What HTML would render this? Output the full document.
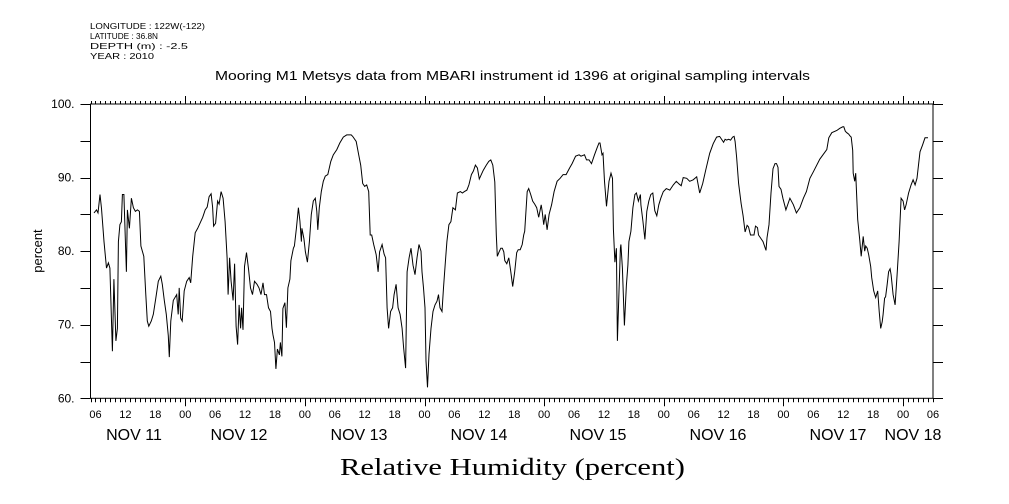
<!DOCTYPE html>
<html><head><meta charset="utf-8"><style>
body{margin:0;background:#fff;}
svg{display:block;font-family:"Liberation Sans",sans-serif;}
</style></head><body>
<svg id="chart" width="1009" height="504" viewBox="0 0 1009 504" xmlns="http://www.w3.org/2000/svg">
<g font-size="8.5" fill="#000">
<text x="90" y="29" textLength="115" lengthAdjust="spacingAndGlyphs">LONGITUDE : 122W(-122)</text>
<text x="90" y="39" textLength="68" lengthAdjust="spacingAndGlyphs">LATITUDE : 36.8N</text>
<text x="90" y="49" textLength="98" lengthAdjust="spacingAndGlyphs">DEPTH (m) : -2.5</text>
<text x="90" y="59" textLength="64" lengthAdjust="spacingAndGlyphs">YEAR : 2010</text>
</g>
<text x="215" y="80" textLength="595" lengthAdjust="spacingAndGlyphs" font-size="13">Mooring M1 Metsys data from MBARI instrument id 1396 at original sampling intervals</text>
<text transform="translate(42,251) rotate(-90)" text-anchor="middle" font-size="13">percent</text>
<text x="340" y="475" textLength="345" lengthAdjust="spacingAndGlyphs" font-family="Liberation Serif, serif" font-size="24">Relative Humidity (percent)</text>
<g id="axes"></g>
<g id="series"></g>
</svg>
<script>
const times=[5.7,6.2,6.5,6.9,7.2,7.7,8.2,8.6,8.9,9.4,9.7,10.1,10.4,10.6,10.9,11.2,11.4,11.7,12.0,12.2,12.4,12.8,13.2,13.6,14.0,14.4,14.8,15.1,15.7,16.1,16.4,16.7,17.2,17.6,18.1,18.6,19.1,19.4,19.8,20.2,20.6,20.8,21.1,21.6,22.3,22.6,22.8,23.1,23.4,23.8,24.3,24.8,25.1,25.5,26.0,26.5,27.1,27.5,28.0,28.4,28.8,29.2,29.5,29.7,30.1,30.5,30.8,31.2,31.6,32.0,32.4,32.6,32.9,33.2,33.6,33.9,34.2,34.5,34.8,35.1,35.3,35.6,35.9,36.3,36.7,37.1,37.5,37.9,38.4,38.8,39.2,39.6,39.9,40.3,40.7,41.1,41.4,41.6,41.9,42.2,42.5,42.9,43.1,43.4,43.6,44.0,44.3,44.6,45.0,45.2,45.7,45.9,46.3,46.7,47.0,47.3,47.4,47.8,48.1,48.5,48.9,49.3,49.7,50.1,50.4,50.6,50.9,51.3,51.7,52.1,52.6,53.2,53.7,54.4,55.0,55.7,56.4,57.3,57.6,58.3,58.8,59.2,59.6,60.0,60.4,60.8,61.1,61.4,61.8,62.3,62.7,63.0,63.5,63.9,64.2,64.5,64.8,65.2,65.6,65.9,66.3,66.7,67.1,67.5,67.8,68.2,68.5,68.9,69.3,69.7,70.1,70.5,70.9,71.3,71.5,71.8,72.1,72.3,72.6,72.9,73.3,73.7,74.1,74.5,74.8,75.1,75.5,75.8,76.2,76.5,76.9,77.3,77.7,78.2,78.6,79.2,79.6,80.0,80.5,80.9,81.4,81.8,82.2,82.6,83.0,83.4,83.8,84.4,84.9,85.3,85.7,86.1,86.4,86.6,86.9,87.3,87.6,87.9,88.1,88.5,88.9,89.3,89.7,90.1,90.5,90.8,91.2,91.6,91.9,92.1,92.6,92.9,93.3,93.7,94.1,94.5,94.9,95.4,95.6,95.9,96.2,96.6,97.0,97.5,98.0,98.6,99.2,99.8,100.4,101.1,101.6,102.3,103.0,103.4,104.1,104.5,105.0,105.5,106.1,106.6,107.0,107.2,107.6,107.8,108.1,108.5,109.0,109.4,109.7,109.9,110.2,110.5,110.7,111.0,111.3,111.4,111.7,112.1,112.5,112.8,113.0,113.4,113.8,114.2,114.5,114.9,115.3,115.4,115.8,116.2,116.6,117.0,117.4,117.8,118.2,118.6,119.0,119.4,119.9,120.5,121.2,121.9,122.5,123.1,123.5,123.9,124.6,125.2,125.9,126.6,127.2,127.8,128.4,129.2,129.9,130.6,131.2,132.0,132.3,132.6,133.0,133.4,133.8,134.1,134.3,134.6,135.0,135.5,135.9,136.3,136.7,137.0,137.4,137.8,138.1,138.4,138.8,139.0,139.4,139.9,140.5,140.7,141.1,141.5,141.9,142.3,142.6,142.9,143.1,143.5,143.9,144.5,145.3,146.0,146.6,147.3,148.0,148.6,149.3,150.0,151.3,152.7,153.1,153.7,154.7,155.3,155.9,156.1,156.4,156.7,157.1,157.3,157.6,157.9,158.0,158.3,158.5,158.9,159.3,159.6,160.0,160.3,160.5,160.8,161.1,161.5,161.7,162.1,162.5,162.9,163.2,163.5,163.8,164.0,164.3,164.5,164.8,165.1,165.4,165.6,166.0,166.4,166.8,167.2,167.6,168.0,168.3,168.6,169.1,169.6,170.0,170.4,170.8,171.4,171.9,172.4,173.0];
const values=[85.2,85.6,85.2,87.7,85.8,81.3,77.7,78.4,77.7,66.4,76.2,67.8,69.5,81.3,83.6,84.0,87.7,87.7,81.3,77.2,85.6,83.1,87.2,85.9,85.4,85.6,85.4,80.7,79.3,74.1,70.5,69.8,70.5,71.4,73.6,75.9,76.6,75.5,73.3,71.4,68.5,65.6,70.5,73.3,74.1,71.4,75.0,70.9,70.5,74.6,75.9,76.4,75.7,79.3,82.5,83.1,84.0,84.6,85.6,86.0,87.4,87.8,86.0,83.4,83.8,86.8,86.4,88.1,87.2,84.0,79.1,74.1,79.1,75.9,73.3,78.3,69.8,67.3,72.7,69.5,72.3,69.3,77.9,79.8,77.6,75.0,74.1,75.9,75.5,75.0,74.1,75.7,74.1,74.1,72.3,71.8,69.5,68.6,67.6,64.0,66.7,65.9,67.6,65.7,72.2,73.0,69.6,75.0,76.2,78.7,80.4,80.7,83.1,85.9,84.1,81.3,83.1,81.7,79.9,78.5,81.3,85.0,86.8,87.2,85.4,82.9,85.9,88.1,89.5,90.2,90.4,92.2,93.1,93.8,94.7,95.5,95.8,95.8,95.6,94.9,93.1,91.7,89.2,88.8,89.0,88.1,82.2,82.2,80.9,79.5,77.2,79.9,80.9,79.6,79.1,72.3,69.5,71.8,72.3,74.1,75.5,72.3,71.4,69.5,66.9,64.1,77.2,79.1,80.4,78.1,76.8,79.1,80.9,80.0,77.2,75.0,72.3,65.1,61.5,66.0,69.5,71.8,72.7,73.2,74.1,72.3,71.8,75.0,78.6,81.3,83.6,84.0,85.9,85.6,87.9,88.1,87.9,88.1,88.3,89.0,90.4,90.9,91.7,91.3,89.8,90.4,91.0,91.7,92.2,92.4,91.7,89.4,82.2,79.3,79.8,80.4,80.4,79.9,78.7,78.3,79.1,77.2,75.2,77.2,79.8,80.2,80.2,80.9,82.2,82.7,88.1,88.5,87.7,86.8,86.4,85.9,84.6,86.3,85.4,83.6,85.0,82.9,85.0,86.3,88.1,89.5,89.9,90.4,90.4,91.3,91.9,92.9,93.1,92.9,93.1,92.4,92.4,91.9,93.1,94.0,94.7,94.7,93.1,93.3,89.5,86.1,89.5,90.6,89.9,83.0,78.5,80.4,67.8,74.1,80.4,80.9,77.7,69.9,75.4,78.1,81.3,82.7,85.9,87.7,87.9,86.8,87.7,86.3,84.1,81.6,85.4,86.8,87.7,87.9,85.5,84.8,86.3,87.2,88.1,88.5,88.3,89.0,89.5,89.1,88.9,90.0,89.9,89.5,89.7,90.1,87.9,89.2,91.0,93.3,94.6,95.5,95.6,94.8,95.2,95.1,95.2,95.1,95.5,95.6,94.9,92.8,89.2,86.5,84.8,82.6,83.5,83.3,82.2,82.2,82.2,83.4,83.2,82.2,81.8,81.3,80.1,81.8,83.6,87.9,91.2,91.9,91.9,91.4,88.8,88.4,87.2,85.6,87.2,86.3,85.2,85.9,87.2,88.1,89.9,90.8,92.5,93.8,95.4,96.1,96.4,96.7,96.9,96.9,96.3,96.1,95.9,95.7,95.5,93.7,90.6,89.5,90.6,84.3,81.6,79.3,82.0,80.0,80.7,80.4,79.5,77.9,76.4,74.6,73.7,74.6,71.8,69.5,70.4,71.4,73.6,73.8,75.4,77.2,77.6,76.8,74.1,72.7,76.8,81.3,87.2,86.8,85.6,86.3,87.9,89.0,89.7,89.0,89.9,93.5,94.4,95.4,95.4,95.7,96.4,96.9,97.3,97.3,97.0];
const yTicks=[60,70,80,90,100];
const xHourLabels=['06','12','18','00','06','12','18','00','06','12','18','00','06','12','18','00','06','12','18','00','06','12','18','00','06','12','18','00','06'];
const dateLabels=['NOV 11','NOV 12','NOV 13','NOV 14','NOV 15','NOV 16','NOV 17','NOV 18'];
const dateCenters=[134,239,359,479,598,718,838,913];

const L=90.5,R=933,T=104,B=398.3,T0=5,T1=174;
const xs=t=>L+(t-T0)*(R-L)/(T1-T0);
const ys=v=>B-(v-60)*(B-T)/40;
const NS='http://www.w3.org/2000/svg';
function mk(tag,a,parent){const e=document.createElementNS(NS,tag);for(const k in a)e.setAttribute(k,a[k]);parent.appendChild(e);return e;}
const ax=document.getElementById('axes');
const frame=mk('rect',{x:L,y:T,width:R-L,height:B-T,fill:'none',stroke:'#000','stroke-width':1},ax);


let d='';
for(let h=5;h<=174;h++){const x=Math.round(xs(h))+0.5;const maj=h%24===0;
 d+=`M${x},${B}V${B+(maj?8:4)}M${x},${T}V${T-(maj?8:3)}`;}
for(let v=60;v<=100;v+=5){const y=Math.round(ys(v))+0.5;d+=`M${L-10},${y}H${L}M${R},${y}H${R+10}`;}
const tk=mk('path',{d:d,stroke:'#000','stroke-width':1,fill:'none'},ax);


yTicks.forEach(v=>{const t=mk('text',{x:L-16,y:ys(v)+4,'text-anchor':'end','font-size':12},ax);t.textContent=v+'.';
 
 });
xHourLabels.forEach((s,i)=>{const t=mk('text',{x:xs(6+i*6),y:418,'text-anchor':'middle','font-size':11},ax);t.textContent=s;
 
 });
dateLabels.forEach((s,i)=>{const t=mk('text',{x:dateCenters[i],y:440,'text-anchor':'middle','font-size':16},ax);t.textContent=s;
 
 });
const pts=times.map((t,i)=>xs(t).toFixed(1)+','+ys(values[i]).toFixed(1)).join(' ');
const line=mk('polyline',{points:pts,fill:'none',stroke:'#000','stroke-width':1},document.getElementById('series'));


</script>
</body></html>
